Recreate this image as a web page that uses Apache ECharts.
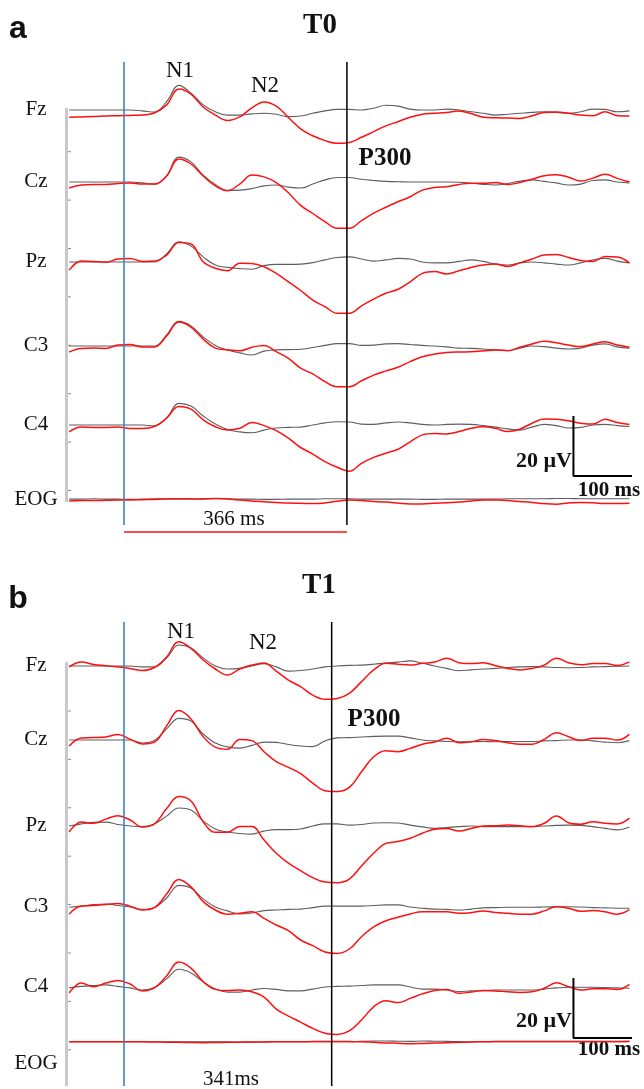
<!DOCTYPE html>
<html><head><meta charset="utf-8">
<script src="https://cdn.jsdelivr.net/npm/echarts@6/dist/echarts.min.js"></script>
<style>html,body{margin:0;padding:0;background:#fff}#c{width:644px;height:1089px}</style>
</head><body><div id="c"></div>
<script>
// ---- DATA (values in microvolts, negative plotted upward) ----
const times = [-90, -70, -50, -30, -10, 10, 30, 50, 70, 90,
 110, 130, 150, 170, 190, 210, 230, 250, 270, 290,
 310, 330, 350, 370, 390, 410, 430, 450, 470, 490,
 510, 530, 550, 570, 590, 610, 630, 650, 670, 690,
 710, 730, 750, 770, 790, 810, 830];
const channels = ['Fz', 'Cz', 'Pz', 'C3', 'C4', 'EOG'];
const panelLetters = ['a', 'b'];
const panelTitles = ['T0', 'T1'];
const p300Latency = [366, 341];
const latencyLabels = ['366 ms', '341ms'];
const componentLabels = ['N1', 'N2', 'P300'];
const scaleAmplitude = 20;   // µV
const scaleDuration = 100;   // ms
const scaleLabels = ['20 µV', '100 ms'];

// Panel a (T0)
const a_Fz_gray = [0, 0, 0, 0, 0, 0, 0.3, 0.7, -2.8, -8.2,
 -5.6, -1.7, 0.6, 1.7, 1.7, 1.3, 1.1, 1.4, 2.2, 2.0,
 1.1, 0.3, -0.2, -0.2, 0, -0.6, -1.6, -1.3, -0.3, 0,
 0, -0.3, 0, 0.6, 1.1, 1.7, 1.4, 1.1, 0.8, 0.6,
 0.8, 1.1, 0.6, -0.3, -0.2, 0.6, 0.3];
const a_Fz_red = [2.4, 2.3, 2.2, 2.0, 1.9, 1.8, 1.7, 1.0, -1.7, -7.0,
 -5.3, -1.0, 1.7, 3.5, 2.3, -0.7, -2.7, -1.3, 2.5, 6.3,
 8.6, 10.2, 11.1, 10.8, 9.1, 7.2, 5.3, 3.9, 2.4, 1.4,
 1.1, 0.8, 0.3, 1.2, 2.4, 2.6, 2.7, 2.8, 1.9, 0.8,
 0.7, 1.1, 1.7, 1.9, 0.6, 1.9, 2.0];
const a_Cz_gray = [0, 0, 0, 0, 0, 0, 0.3, 0.7, -2.1, -8.3,
 -6.7, -2.3, 0.8, 2.8, 2.7, 2.2, 1.3, 1.0, 1.7, 2.0,
 0.7, -0.7, -1.5, -1.5, -0.9, -0.5, -0.2, -0.1, 0, 0,
 0, 0, 0.1, 0.4, 0.8, 1.0, 0.5, -0.3, -0.7, -0.2,
 0.3, 1.0, 0.7, -0.5, -0.7, 0, 0.3];
const a_Cz_red = [2.0, 1.0, 0.8, 0.8, 0.5, 0.3, 0.7, 0.7, -2.0, -7.7,
 -6.0, -2.0, 1.3, 2.9, 0.7, -2.3, -1.7, 0.2, 3.6, 7.8,
 10.5, 13.2, 15.4, 15.4, 12.9, 10.4, 8.4, 6.6, 4.9, 2.7,
 1.8, 1.6, 0.8, 0.4, 0.4, 0.2, 0.8, 0.2, -0.9, -2.1,
 -2.4, -1.6, -0.3, -1.3, -2.6, -1.2, 0];
const a_Pz_gray = [0, 0, 0, 0, 0, 0, 0, 0, -2.7, -6.7,
 -5.3, -1.7, 1.0, 1.8, 2.2, 2.4, 1.2, 0.8, 0.8, 0.7,
 0.2, -0.7, -1.5, -1.7, -1.0, -0.3, -0.7, -1.2, -1.0, 0,
 0.3, 0.3, -0.2, -0.7, -0.2, 0.7, 1.0, 0.3, 0, 0.3,
 0.7, 1.0, 0.3, -0.7, -1.2, -0.3, 0.3];
const a_Pz_red = [2.7, -0.3, -0.2, 0.1, -1.0, -1.2, -0.2, -0.3, -2.3, -6.5,
 -6.0, -0.1, 2.1, 2.9, 0.4, 0.5, 1.6, 3.8, 6.6, 9.5,
 12.7, 14.9, 17.1, 17.1, 14.6, 12.4, 10.4, 9.1, 6.6, 3.8,
 3.2, 4.0, 2.9, 1.8, 1.0, 0.7, 1.5, 0.3, -1.0, -2.3,
 -2.5, -1.5, -0.5, -0.2, -1.8, -1.7, 0.3];
const a_C3_gray = [0, 0, 0, 0, 0, 0, 0, 0, -3.7, -8.2,
 -6.7, -3.0, -0.2, 1.3, 2.3, 3.0, 1.7, 1.3, 1.2, 1.1,
 0.5, -0.2, -0.8, -0.8, -0.2, -0.3, -0.7, -0.8, -0.5, -0.2,
 0, 0.3, 0.7, 0.8, 1.0, 1.3, 1.5, 0.7, 0, 0.2,
 0.7, 1.0, 0.7, -0.3, -0.7, 0.3, 0.7];
const a_C3_red = [2.0, 0.8, 0.7, 0.8, -0.3, -0.5, 0.3, 0.3, -3.3, -8.0,
 -6.3, -2.3, 0.7, 1.3, 1.6, 0.4, -0.2, 1.9, 4.1, 7.4,
 9.3, 11.9, 13.6, 13.6, 11.6, 9.7, 8.3, 7.1, 5.2, 3.6,
 2.7, 2.2, 2.0, 1.9, 1.6, 1.3, 1.6, 0.4, -0.7, -1.6,
 -1.1, -0.3, 0.2, -0.7, -1.4, -0.3, 0.4];
const a_C4_gray = [0, 0, 0, 0, 0, 0, 0, 0.3, -2.3, -7.2,
 -6.3, -3.0, -0.3, 1.5, 2.3, 2.6, 1.7, 1.0, 0.8, 0.7,
 0, -0.7, -1.1, -1.0, -0.3, -0.2, -0.7, -1.0, -0.7, -0.2,
 0, -0.2, -0.3, -0.2, 0.2, 0.7, 1.3, 1.7, 0.7, -0.2,
 0.2, 1.0, 0.8, 0, -0.2, 0.2, 0.5];
const a_C4_red = [2.3, 0.7, 0.8, 0.8, 0.7, 1.2, 1.2, 0.5, -2.3, -6.2,
 -5.3, -1.7, 0.6, 1.7, 1.1, -0.8, 0.2, 1.9, 4.4, 7.5,
 9.7, 12.2, 14.1, 15.4, 12.8, 10.8, 9.4, 8.1, 5.6, 3.3,
 2.8, 3.0, 2.2, 1.1, 0.6, 1.1, 2.2, 1.4, -0.6, -2.0,
 -1.9, -1.4, -0.6, -0.3, -1.9, -0.8, -0.2];
const a_EOG_gray = [-0.3, -0.3, -0.4, -0.3, -0.3, -0.2, -0.3, -0.4, -0.4, -0.5,
 -0.4, -0.3, -0.5, -0.4, -0.3, -0.3, -0.2, -0.2, -0.3, -0.3,
 -0.3, -0.4, -0.4, -0.4, -0.3, -0.3, -0.3, -0.3, -0.3, -0.2,
 -0.2, -0.3, -0.3, -0.3, -0.3, -0.3, -0.4, -0.4, -0.4, -0.4,
 -0.5, -0.5, -0.4, -0.4, -0.4, -0.4, -0.4];
const a_EOG_red = [0.3, 0.2, 0.2, 0.1, 0, 0, -0.1, -0.2, -0.3, -0.3,
 -0.3, -0.4, -0.5, -0.3, 0, 0.3, 0.6, 0.8, 1.0, 1.1,
 1.2, 1.0, 0.4, 0, 0.2, 0.5, 0.7, 1.0, 1.3, 1.3,
 1.1, 0.9, 0.7, 0.3, 0, 0, 0.2, 0.5, 0.8, 1.2,
 1.4, 1.0, 0.8, 0.9, 1.2, 1.2, 1.1];

// Panel b (T1)
const b_Fz_gray = [0, 0, 0, 0, 0, 0, 0.3, 0.3, -2.7, -7.0,
 -6.0, -2.7, 0, 1.0, 0.8, 0, -0.8, 0.3, 1.7, 1.5,
 1.0, 0.3, 0, -0.2, -0.3, -0.6, -1.0, -1.3, -1.7, -0.9,
 0, 0.8, 1.6, 1.3, 1.0, 0.8, 0.5, 0.3, 0.2, 0.3,
 0.5, 0.6, 0.5, 0.3, 0.2, 0.1, 0];
const b_Fz_red = [0.3, -1.3, -0.5, -0.1, 0.3, 0.8, 1.5, 0.5, -3.0, -8.1,
 -5.9, -2.0, 1.0, 3.0, 1.0, -0.3, -1.0, 1.7, 4.7, 6.9,
 9.7, 11.1, 10.8, 9.1, 5.2, 1.3, -0.9, -0.6, -0.3, -0.9,
 -1.3, -2.6, -1.1, -0.8, -1.1, -0.1, 0.8, 1.3, 0.8, -0.3,
 -2.6, -1.1, -0.4, -0.8, -0.8, -0.2, -1.4];
const b_Cz_gray = [0, 0, 0, 0, 0, 0, 1.0, 0.2, -3.7, -7.2,
 -6.3, -2.0, 1.0, 2.3, 2.7, 1.8, 0.7, 0.8, 1.5, 2.0,
 2.2, 0.3, -0.7, -0.8, -1.0, -1.2, -1.3, -1.3, -0.7, 0,
 0.3, 0.5, 0.6, 0.6, 0.5, 0.6, 0.5, 0.5, 0.5, 0.3,
 0.2, 0, 0, 0.3, 0.7, 0.9, 0.2];
const b_Cz_red = [2.0, -0.7, -0.8, -1.0, -1.8, -0.3, 1.3, 0.7, -4.7, -9.8,
 -7.0, -1.1, 2.4, 3.1, -0.2, 0.2, 3.9, 7.2, 9.1, 11.2,
 14.4, 16.9, 17.2, 15.8, 10.6, 5.6, 3.6, 3.9, 2.8, 1.4,
 0.7, -0.6, 0.9, 0.6, -0.2, 0.2, 0.9, 1.4, 1.4, -0.2,
 -2.4, -1.1, 0.2, -0.6, -0.6, 0, -1.9];
const b_Pz_gray = [0, -0.7, -1.2, -1.3, -0.5, 0, 0.2, -0.7, -3.3, -6.0,
 -5.3, -1.7, 1.0, 2.0, 2.5, 2.7, 1.7, 1.2, 1.2, 1.0,
 0, -0.7, -0.7, -0.3, -0.5, -1.0, -1.1, -1.0, -0.3, 0.3,
 0.8, 0.5, 0.2, 0, 0.2, 0.2, 0.2, 0.2, 0.2, 0,
 -0.2, -0.3, -0.2, 0.2, 0.8, 1.3, 0.3];
const b_Pz_red = [2.0, -1.3, -0.9, -2.3, -3.4, -2.0, 0.3, -0.7, -5.8, -9.8,
 -8.3, -1.4, 2.1, 2.1, 0.2, 0.2, 4.7, 9.1, 12.4, 14.9,
 17.2, 18.7, 18.9, 17.7, 13.3, 9.1, 5.8, 5.2, 4.1, 2.4,
 1.1, 0.8, 1.7, 0.8, 0, -0.1, -0.3, -0.1, 0.2, -0.9,
 -3.3, -1.1, -0.6, -1.4, -0.9, -0.7, -2.6];
const b_C3_gray = [0.1, -0.3, -0.8, -1.0, -0.5, 0, 0.8, 0.2, -3.0, -7.2,
 -6.3, -2.7, 0, 1.3, 2.3, 2.0, 1.2, 1.0, 0.8, 0.7,
 0.2, -0.3, -0.3, -0.3, -0.3, -0.5, -0.7, -0.7, 0, 0.4,
 0.7, 0.8, 1.0, 0.7, 0.3, 0.2, 0.1, 0.1, 0.1, 0,
 -0.1, -0.1, 0, 0.2, 0.3, 0.4, 0.4];
const b_C3_red = [2.3, -0.3, -0.5, -0.8, -1.2, -0.3, 1.0, 0.2, -4.3, -9.2,
 -6.7, -1.8, 1.0, 2.4, 2.1, 1.6, 3.8, 6.0, 7.9, 11.0,
 12.9, 15.0, 15.5, 14.0, 9.9, 6.6, 4.6, 3.4, 2.3, 1.6,
 1.6, 1.6, 2.1, 1.9, 1.3, 1.8, 2.1, 2.4, 2.4, 1.3,
 -0.1, 0.4, 1.4, 1.2, 1.6, 2.4, 0.9];
const b_C4_gray = [0.3, -0.2, -0.5, -0.7, -0.2, 0.3, 1.0, 0.2, -2.7, -5.9,
 -4.7, -1.7, 0.7, 1.7, 1.7, 1.0, 0.5, 0.8, 1.3, 1.3,
 0.7, 0, -0.2, -0.3, -0.5, -0.7, -0.7, -0.7, 0, 0.7,
 0.7, 1.0, 1.5, 1.3, 1.2, 1.0, 1.0, 1.0, 1.0, 0.7,
 0.3, 0.1, 0.1, 0.1, 0.2, 0.3, 0.4];
const b_C4_red = [2.0, -1.3, -0.1, -1.3, -2.2, -1.0, 1.3, 0.3, -3.7, -8.3,
 -6.3, -1.8, 0.8, 1.2, 1.0, 1.6, 3.4, 7.4, 9.7, 11.7,
 13.8, 15.4, 15.8, 14.6, 11.0, 6.6, 4.6, 5.2, 3.8, 2.3,
 1.2, 0.8, 2.1, 1.7, 1.2, 1.3, 1.6, 1.8, 1.6, 0.4,
 -1.4, -0.1, 1.0, 0.6, 0.6, 0.8, -0.9];
const b_EOG_gray = [0, 0, 0, 0, 0, 0, 0, 0, 0, 0,
 0, 0, 0, 0, 0.2, 0.2, 0.1, 0, 0, 0,
 0, 0, 0, 0, -0.3, -0.4, -0.4, -0.3, -0.2, -0.4,
 -0.3, -0.2, -0.1, 0, 0, 0, 0, 0, 0, 0,
 0, 0, 0, 0, 0, 0, 0];
const b_EOG_red = [0, 0, 0, 0, 0, 0, 0, 0.1, 0.2, 0.3,
 0.4, 0.5, 0.4, 0.3, 0.2, 0.1, 0.1, 0, 0, 0,
 -0.1, -0.2, -0.2, -0.1, 0, 0.3, 0.6, 0.8, 1.0, 0.9,
 0.7, 0.5, 0.3, 0.1, 0, -0.1, -0.2, -0.2, -0.2, -0.2,
 -0.2, -0.2, -0.2, -0.2, -0.2, -0.2, -0.3];

const panelData = [
  [[a_Fz_gray, a_Fz_red], [a_Cz_gray, a_Cz_red], [a_Pz_gray, a_Pz_red], [a_C3_gray, a_C3_red], [a_C4_gray, a_C4_red], [a_EOG_gray, a_EOG_red]],
  [[b_Fz_gray, b_Fz_red], [b_Cz_gray, b_Cz_red], [b_Pz_gray, b_Pz_red], [b_C3_gray, b_C3_red], [b_C4_gray, b_C4_red], [b_EOG_gray, b_EOG_red]]
];

// ---- LAYOUT (pixels) ----
const X0 = 124, PX_PER_MS = 0.609, PX_PER_UV = 3;
const Y_MIN = -20, Y_MAX = 25;
const xMin = times[0], xMax = times[times.length - 1];
const gridLeft = X0 + PX_PER_MS * xMin;
const gridWidth = PX_PER_MS * (xMax - xMin);
const layout = [
  { baselines: [110, 182, 262, 346, 425, 500], vTop: 62, vBottom: 525, underlineY: 532,
    axisTop: 108, axisBottom: 502, tickStart: 151.7,
    letter: [18, 29], title: [320, 26], n1: [180, 71], n2: [265, 86], p300: [385, 159],
    latLabel: [234, 519], scaleX: 738, scaleY0: -3, uvLabel: [572, 461], msLabel: [609, 491] },
  { baselines: [666, 740, 826, 907, 987, 1064], vTop: 622, vBottom: 1086, underlineY: null,
    axisTop: 662, axisBottom: 1086, tickStart: 711,
    letter: [18, 599], title: [319, 586], n1: [181, 632], n2: [263, 643], p300: [374, 720],
    latLabel: [231, 1079], scaleX: 738, scaleY0: -3, uvLabel: [572, 1021], msLabel: [609, 1050] }
];
const TICK_STEP = 48.4;
const SERIF = '"Liberation Serif","Times New Roman",serif';
const SANS = '"Liberation Sans",Arial,sans-serif';
const GRAY = '#5e5e5e', RED = '#ff1010', BLUE = '#3f80c6';

const grids = [], xAxes = [], yAxes = [], series = [], graphic = [];
function addGrid(top, height, yMin, yMax, inverse) {
  const idx = grids.length;
  grids.push({ left: gridLeft, width: gridWidth, top: top, height: height });
  xAxes.push({ gridIndex: idx, type: 'value', min: xMin, max: xMax, show: false });
  yAxes.push({ gridIndex: idx, type: 'value', min: yMin, max: yMax, inverse: !!inverse, show: false });
  return idx;
}
function lineSeries(idx, data, color, width, smooth) {
  return { type: 'line', xAxisIndex: idx, yAxisIndex: idx, data: data, symbol: 'none', showSymbol: false,
    smooth: smooth, clip: false, silent: true, animation: false,
    lineStyle: { color: color, width: width } };
}
function txt(text, x, y, font, align) {
  return { type: 'text', x: x, y: y, silent: true,
    style: { text: text, font: font, fill: '#111', align: align || 'center', verticalAlign: 'middle',
      textAlign: align || 'center', textVerticalAlign: 'middle' } };
}

panelData.forEach((chans, p) => {
  const L = layout[p];
  let c4Grid = null;
  chans.forEach((pair, c) => {
    const base = L.baselines[c];
    const idx = addGrid(base + Y_MIN * PX_PER_UV, (Y_MAX - Y_MIN) * PX_PER_UV, Y_MIN, Y_MAX, true);
    if (channels[c] === 'C4') c4Grid = idx;
    series.push(lineSeries(idx, times.map((t, k) => [t, pair[0][k]]), GRAY, 1.1, 0.4));
    series.push(lineSeries(idx, times.map((t, k) => [t, pair[1][k]]), RED, 1.5, 0.4));
    graphic.push(txt(channels[c], 36, base - 1, '21px ' + SERIF));
  });
  // onset and P300 latency lines
  const f = addGrid(L.vTop, L.vBottom - L.vTop, 0, 1, false);
  series.push(lineSeries(f, [[0, 0], [0, 1]], BLUE, 1.6, false));
  series.push(lineSeries(f, [[p300Latency[p], 0], [p300Latency[p], 1]], '#000', 1.5, false));
  if (L.underlineY !== null) {
    const u = addGrid(L.underlineY - 1, 2, -1, 1, false);
    series.push(lineSeries(u, [[0, 0], [p300Latency[p], 0]], RED, 1.6, false));
  }
  // scale bar in the C4 coordinate system
  series.push(lineSeries(c4Grid, [[L.scaleX, L.scaleY0], [L.scaleX, L.scaleY0 + scaleAmplitude],
    [L.scaleX + scaleDuration, L.scaleY0 + scaleAmplitude]], '#000', 2, false));
  // left amplitude axis bar
  graphic.push({ type: 'line', silent: true, shape: { x1: 66.5, y1: L.axisTop, x2: 66.5, y2: L.axisBottom },
    style: { stroke: '#c9c9c9', lineWidth: 3 } });
  for (let y = L.tickStart; y < L.axisBottom - 4; y += TICK_STEP) {
    graphic.push({ type: 'line', silent: true, shape: { x1: 68, y1: y, x2: 71, y2: y },
      style: { stroke: '#8a8a8a', lineWidth: 1 } });
  }
  // texts
  graphic.push(txt(panelLetters[p], L.letter[0], L.letter[1], 'bold 32px ' + SANS));
  graphic.push(txt(panelTitles[p], L.title[0], L.title[1], 'bold 29px ' + SERIF));
  graphic.push(txt(componentLabels[0], L.n1[0], L.n1[1], '23px ' + SERIF));
  graphic.push(txt(componentLabels[1], L.n2[0], L.n2[1], '23px ' + SERIF));
  graphic.push(txt(componentLabels[2], L.p300[0], L.p300[1], 'bold 25px ' + SERIF));
  graphic.push(txt(latencyLabels[p], L.latLabel[0], L.latLabel[1], '21px ' + SERIF));
  graphic.push(txt(scaleLabels[0], L.uvLabel[0], L.uvLabel[1], 'bold 22px ' + SERIF, 'right'));
  graphic.push(txt(scaleLabels[1], L.msLabel[0], L.msLabel[1], 'bold 21px ' + SERIF));
});

const chart = echarts.init(document.getElementById('c'), null, { renderer: 'canvas' });
chart.setOption({
  backgroundColor: '#ffffff',
  animation: false,
  grid: grids, xAxis: xAxes, yAxis: yAxes,
  series: series,
  graphic: graphic
});
</script>
</body></html>
